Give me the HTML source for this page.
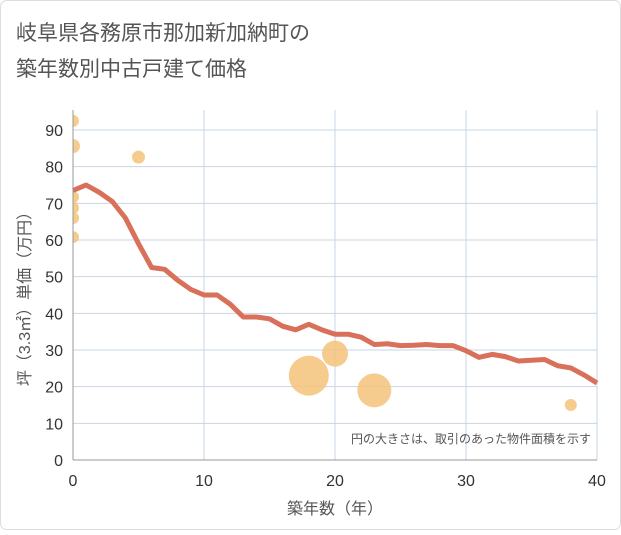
<!DOCTYPE html>
<html><head><meta charset="utf-8"><style>
body{margin:0;background:#fff;}
svg text{font-family:"Liberation Sans","Noto Sans CJK JP",sans-serif;}
</style></head><body>
<svg width="621" height="530">
<rect x="0.5" y="0.5" width="620" height="529" rx="6" fill="#fff" stroke="#ddd"/>
<text x="16" y="40" font-size="21" fill="#555">岐阜県各務原市那加新加納町の</text>
<text x="16" y="76" font-size="21" fill="#555">築年数別中古戸建て価格</text>
<defs><clipPath id="pc"><rect x="73" y="110" width="524" height="350"/></clipPath></defs>
<g id="grid"></g>
<g id="bubbles" clip-path="url(#pc)"></g>
<path id="line" fill="none" stroke="#d9705a" stroke-width="5" stroke-linejoin="round"/>
<g id="axes"></g>
<text x="591" y="443" font-size="12" fill="#555" text-anchor="end">円の大きさは、取引のあった物件面積を示す</text>
<text x="335" y="514" font-size="16" fill="#555" text-anchor="middle">築年数（年）</text>
<text transform="translate(30,295) rotate(-90)" font-size="16" fill="#555" text-anchor="middle">坪（3.3㎡）単価（万円）</text>
</svg>
<script>
const lineYears=[0,1,2,3,4,5,6,7,8,9,10,11,12,13,14,15,16,17,18,19,20,21,22,23,24,25,26,27,28,29,30,31,32,33,34,35,36,37,38,39,40];
const lineValues=[73.5,75,73,70.5,66,59,52.5,52,49,46.5,45,45,42.5,39,39,38.5,36.5,35.5,37,35.5,34.3,34.3,33.5,31.5,31.7,31.2,31.3,31.5,31.2,31.2,29.8,28,28.8,28.2,27,27.2,27.4,25.7,25.1,23.2,21];
const bubbleYears=[0,0,0,0,0,0,5,18,20,23,38];
const bubbleValues=[92.5,85.6,71.7,68.7,66,60.8,82.6,23,29,19,15];
const bubbleRadii=[6,7,6,6,6,6,6.5,20,13,17,6];
const xTicks=[0,10,20,30,40];
const yTicks=[0,10,20,30,40,50,60,70,80,90];
const X=v=>73+v*(524/40), Y=v=>460-v*(330/90);
const ns="http://www.w3.org/2000/svg";
function mk(t,a,p){const e=document.createElementNS(ns,t);for(const k in a)e.setAttribute(k,a[k]);p.appendChild(e);return e;}
const g=document.getElementById('grid'),ax=document.getElementById('axes');
yTicks.forEach(v=>{
 if(v>0){const l=mk('line',{x1:73,x2:597,y1:Y(v),y2:Y(v),stroke:'#c8d4e3'},g);
 
 }
 const t=mk('text',{x:63,y:Y(v)+6,'font-size':16,fill:'#333','text-anchor':'end'},ax);t.textContent=v;
 
 
});
xTicks.forEach(v=>{
 if(v>0){const l=mk('line',{x1:X(v),x2:X(v),y1:110,y2:460,stroke:'#c8d4e3'},g);
 
 }
 const t=mk('text',{x:X(v),y:486,'font-size':16,fill:'#333','text-anchor':'middle'},ax);t.textContent=v;
 
 
});
const a1=mk('line',{x1:73,x2:73,y1:110,y2:460,stroke:'#999'},ax);


const a2=mk('line',{x1:73,x2:597,y1:460,y2:460,stroke:'#999'},ax);


const b=document.getElementById('bubbles');
bubbleYears.forEach((v,i)=>{
 const c=mk('circle',{cx:X(v),cy:Y(bubbleValues[i]),r:bubbleRadii[i],fill:'#f5c37a','fill-opacity':0.85},b);
 
 
});
document.getElementById('line').setAttribute('d',lineYears.map((v,i)=>(i?'L':'M')+X(v)+','+Y(lineValues[i])).join(''));
</script>
</body></html>
